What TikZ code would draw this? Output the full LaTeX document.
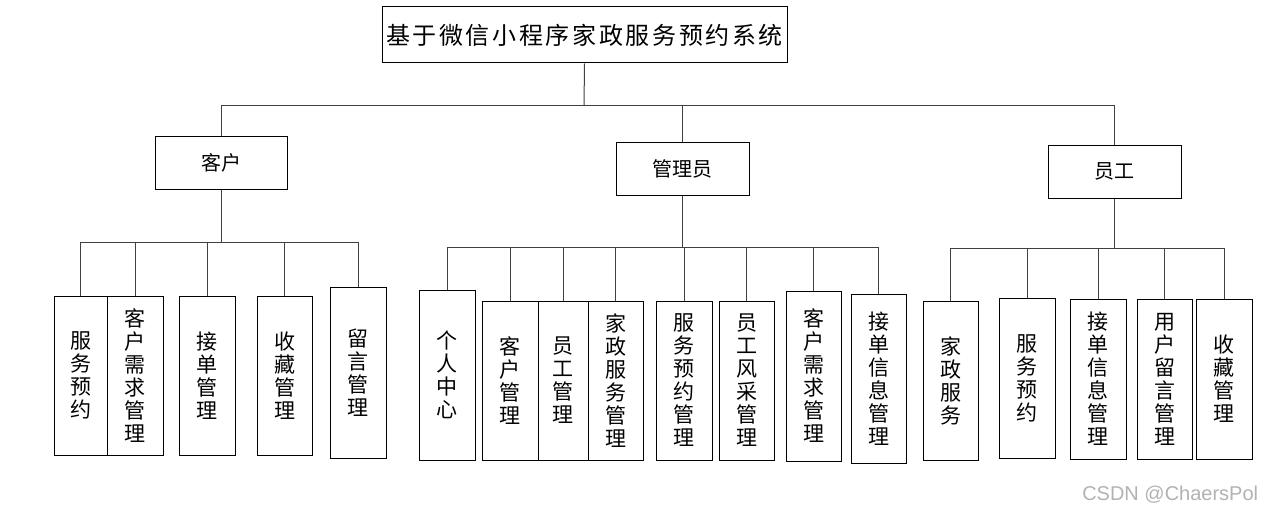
\documentclass[tikz,border=0pt]{standalone}
\usepackage{fontspec}
\usepackage{tikz}
\newfontfamily\cjk{Noto Sans CJK SC}
\newfontfamily\cjkwide{Noto Sans CJK SC}[LetterSpace=11]
\newfontfamily\wmfont{Liberation Sans}

\begin{document}
\begin{tikzpicture}[x=1pt,y=-1pt,line width=1pt]

        \useasboundingbox (0,0) rectangle (1265,516);

        \begin{scope}[every node/.style={draw, inner sep=0pt, align=center,
            minimum width=55pt, minimum height=159pt,
            font=\fontsize{21}{23}\selectfont\cjk}]
          \node[minimum width=405pt, minimum height=56pt,
                font=\fontsize{24}{26}\selectfont\cjkwide] (sys) at (584.5,35) {基于微信小程序家政服务预约系统};

          \node[minimum width=132pt, minimum height=53pt, font=\fontsize{20}{22}\selectfont\cjk] (kh) at (221,162.5) {客户};
          \node[minimum width=133pt, minimum height=53pt, font=\fontsize{20}{22}\selectfont\cjk] (gly) at (682.5,168.5) {管理员};
          \node[minimum width=133pt, minimum height=53pt, font=\fontsize{20}{22}\selectfont\cjk] (yg) at (1114.5,171.5) {员工};

          \node[minimum width=53pt] (k1) at (80.5,375.5) {服\\务\\预\\约};
          \node[minimum width=56pt] (k2) at (135,375.5) {客\\户\\需\\求\\管\\理};
          \node[minimum width=56pt] (k3) at (207,375.5) {接\\单\\管\\理};
          \node (k4) at (284.5,375.5) {收\\藏\\管\\理};
          \node[minimum width=56pt, minimum height=171pt] (k5) at (358,372.5) {留\\言\\管\\理};

          \node[minimum width=56pt, minimum height=170pt] (a1) at (447,375) {个\\人\\中\\心};
          \node[minimum width=56pt] (a2) at (510,380.5) {客\\户\\管\\理};
          \node[minimum width=50pt] (a3) at (563,380.5) {员\\工\\管\\理};
          \node (a4) at (615.5,380.5) {家\\政\\服\\务\\管\\理};
          \node[minimum width=56pt] (a5) at (684,380.5) {服\\务\\预\\约\\管\\理};
          \node (a6) at (746.5,380.5) {员\\工\\风\\采\\管\\理};
          \node[minimum height=170pt] (a7) at (813.5,376) {客\\户\\需\\求\\管\\理};
          \node[minimum height=169pt] (a8) at (878.5,378.5) {接\\单\\信\\息\\管\\理};

          \node (s1) at (950.5,380.5) {家\\政\\服\\务};
          \node[minimum width=56pt, minimum height=160pt] (s2) at (1027,378) {服\\务\\预\\约};
          \node[minimum width=56pt, minimum height=160pt] (s3) at (1098,379) {接\\单\\信\\息\\管\\理};
          \node[minimum height=160pt] (s4) at (1164.5,379) {用\\户\\留\\言\\管\\理};
          \node[minimum width=56pt, minimum height=160pt] (s5) at (1224,379) {收\\藏\\管\\理};
        \end{scope}

        \coordinate (top)  at (584,106);
        \coordinate (kbus) at (221,242);
        \coordinate (abus) at (682.5,247);
        \coordinate (sbus) at (1114.5,248);

        \begin{scope}[draw=black!75]
          \draw (sys.south) -- (top);
          \draw (kh.north) |- (yg.north |- top) -- (yg.north);
          \draw (gly.north) -- (gly.north |- top);

          \draw (kh.south) -- (kbus);
          \draw (k1.north |- kbus) -- (k5.north |- kbus);
          \foreach \n in {k1,k2,k3,k4,k5}
            \draw (\n.north) -- (\n.north |- kbus);

          \draw (gly.south) -- (abus);
          \draw (a1.north |- abus) -- (a8.north |- abus);
          \foreach \n in {a1,a2,a3,a4,a5,a6,a7,a8}
            \draw (\n.north) -- (\n.north |- abus);

          \draw (yg.south) -- (sbus);
          \draw (s1.north |- sbus) -- (s5.north |- sbus);
          \foreach \n in {s1,s2,s3,s4,s5}
            \draw (\n.north) -- (\n.north |- sbus);
        \end{scope}

        \node[text=black!30, font=\fontsize{20}{22}\selectfont\wmfont, anchor=east] (mark) at (1262,495) {CSDN @ChaersPol};

      \end{tikzpicture}
\end{document}
